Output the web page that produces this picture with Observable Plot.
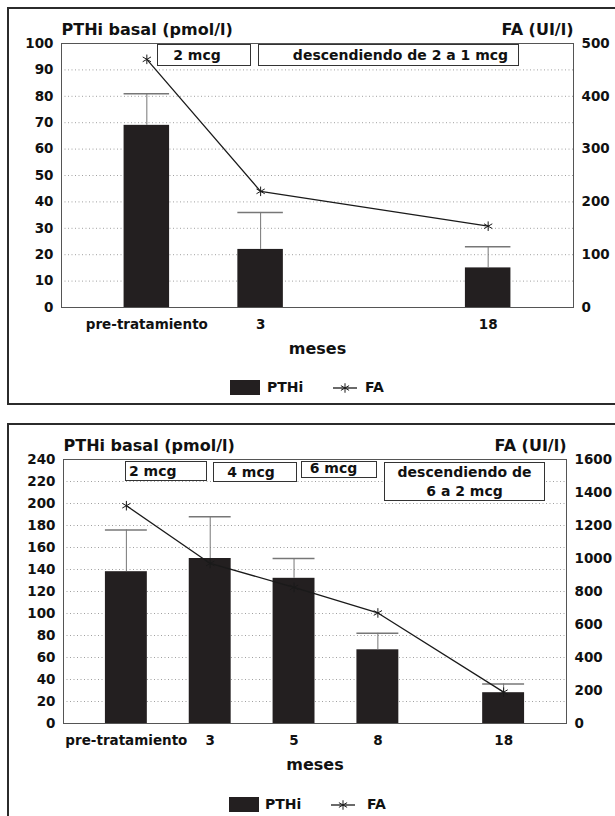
<!DOCTYPE html>
<html><head><meta charset="utf-8">
<script src="https://cdn.jsdelivr.net/npm/d3@7"></script>
<script src="https://cdn.jsdelivr.net/npm/@observablehq/plot@0.6"></script>
<style>
html,body{margin:0;padding:0;background:#fff;}
body{width:615px;height:816px;overflow:hidden;position:relative;font-family:"DejaVu Sans",sans-serif;color:#111;}
.panel{position:absolute;left:0;width:615px;height:416px;}
.border{position:absolute;left:7px;top:7px;width:680px;height:394px;border:2px solid #2b2b2b;}
.panel svg{position:absolute;left:0;top:0;}
.note{position:absolute;box-sizing:border-box;border:1px solid #333;background:#fff;font-weight:bold;font-size:14px;line-height:19px;white-space:nowrap;display:flex;align-items:center;justify-content:center;text-align:center;}
.lg{position:absolute;font-weight:bold;font-size:14px;line-height:17px;white-space:nowrap;}
.sw{position:absolute;background:#231f20;width:30px;height:15px;}
</style></head><body>
<div id="p1" class="panel" style="top:0"><div class="border"></div></div>
<div id="p2" class="panel" style="top:416px"><div class="border"></div></div>
<script>
// ---- Panel 1 data ----
const months1 = ["pre-tratamiento", "3", "18"];
const pth1 = [69, 22, 15];
const pthUpper1 = [81, 36, 23];
const fa1 = [470, 220, 154];

// ---- Panel 2 data ----
const months2 = ["pre-tratamiento", "3", "5", "8", "18"];
const pth2 = [138, 150, 132, 67, 28];
const pthUpper2 = [176, 188, 150, 82, 36];
const fa2 = [1320, 970, 825, 670, 190];

const leftTitle = "PTHi basal (pmol/l)";
const rightTitle = "FA (UI/l)";
const xTitle = "meses";

// category slot layouts (gap slots keep the original spacing)
const slots1 = ["pre-tratamiento", "3", "gap", "18"];
const slots2 = ["pre-tratamiento", "g1", "3", "g2", "5", "g3", "8", "g4", "g5", "18"];

function chart({slots, months, pth, upper, fa, yMax, yStep, faMax, faStep, marginLeft, marginRight, xOpts}) {
  const k = yMax / faMax;
  const rows = months.map((m, i) => ({month: m, pth: pth[i], upper: upper[i], fa: fa[i]}));
  return Plot.plot({
    width: 615, height: 416,
    marginTop: 43, marginBottom: 109, marginLeft, marginRight,
    style: {fontFamily: "DejaVu Sans", fontSize: "13.5px", fontWeight: "bold", color: "#111", background: "transparent", overflow: "visible"},
    x: Object.assign({type: "band", domain: slots, round: false, align: 0.5}, xOpts),
    y: {domain: [0, yMax]},
    marks: [
      Plot.gridY(d3.range(yStep, yMax, yStep), {stroke: "#a0a0a0", strokeOpacity: 1, strokeDasharray: "1,2.5"}),
      Plot.barY(rows, {x: "month", y: "pth", fill: "#231f20"}),
      Plot.ruleX(rows, {x: "month", y1: "pth", y2: "upper", stroke: "#777", strokeWidth: 1}),
      Plot.tickY(rows, {x: "month", y: "upper", stroke: "#777", strokeWidth: 1.5}),
      Plot.line(rows, {x: "month", y: d => d.fa * k, stroke: "#1a1a1a", strokeWidth: 1.3}),
      Plot.dot(rows, {x: "month", y: d => d.fa * k, symbol: "asterisk", r: 4.5, stroke: "#1a1a1a", strokeWidth: 1}),
      Plot.frame({stroke: "#555"}),
      Plot.axisY(d3.range(0, yMax + 1, yStep), {anchor: "left", tickSize: 0, tickPadding: 8, label: null}),
      Plot.axisY(d3.range(0, faMax + 1, faStep).map(v => v * k), {anchor: "right", tickSize: 0, tickPadding: 8, label: null, tickFormat: d => String(Math.round(d / k))}),
      Plot.axisX(months, {anchor: "bottom", tickSize: 0, tickPadding: 12, label: null}),
      Plot.text([leftTitle], {text: d => d, frameAnchor: "top-left", textAnchor: "start", lineAnchor: "middle", dy: -14, fontSize: 16}),
      Plot.text([rightTitle], {text: d => d, frameAnchor: "top-right", textAnchor: "end", lineAnchor: "middle", dy: -14, fontSize: 16}),
      Plot.text([xTitle], {text: d => d, frameAnchor: "bottom", textAnchor: "middle", lineAnchor: "middle", dy: 41, fontSize: 16})
    ]
  });
}

function note(panel, text, css) {
  const d = document.createElement("div");
  d.className = "note";
  d.innerHTML = text;
  Object.assign(d.style, css);
  panel.appendChild(d);
}

function legend(panel, o) {
  const sw = document.createElement("div");
  sw.className = "sw";
  sw.style.left = o.sw + "px"; sw.style.top = o.top + "px";
  panel.appendChild(sw);
  const t1 = document.createElement("div");
  t1.className = "lg"; t1.textContent = "PTHi";
  t1.style.left = o.t1 + "px"; t1.style.top = (o.top - 1) + "px";
  panel.appendChild(t1);
  const ns = "http://www.w3.org/2000/svg";
  const s = document.createElementNS(ns, "svg");
  s.setAttribute("width", 28); s.setAttribute("height", 16);
  s.style.left = o.ln + "px"; s.style.top = o.top + "px";
  const l = document.createElementNS(ns, "line");
  l.setAttribute("x1", 2); l.setAttribute("x2", 26); l.setAttribute("y1", 8); l.setAttribute("y2", 8);
  l.setAttribute("stroke", "#1a1a1a"); l.setAttribute("stroke-width", 1.3);
  s.appendChild(l);
  const p = document.createElementNS(ns, "path");
  p.setAttribute("d", d3.symbol(d3.symbolAsterisk, 20 * Math.PI)());
  p.setAttribute("transform", "translate(14,8)");
  p.setAttribute("stroke", "#1a1a1a"); p.setAttribute("fill", "none");
  s.appendChild(p);
  panel.appendChild(s);
  const t2 = document.createElement("div");
  t2.className = "lg"; t2.textContent = "FA";
  t2.style.left = o.t2 + "px"; t2.style.top = (o.top - 1) + "px";
  panel.appendChild(t2);
}

const p1 = document.getElementById("p1");
p1.appendChild(chart({slots: slots1, months: months1, pth: pth1, upper: pthUpper1, fa: fa1,
  yMax: 100, yStep: 10, faMax: 500, faStep: 100, marginLeft: 61, marginRight: 42,
  xOpts: {paddingInner: 0.6, paddingOuter: 0.55}}));
note(p1, "2 mcg", {left: "157px", top: "44px", width: "94px", height: "22px", paddingRight: "14px"});
note(p1, "descendiendo de 2 a 1 mcg", {left: "258px", top: "44px", width: "261px", height: "22px", paddingLeft: "24px"});
legend(p1, {sw: 230, top: 380, t1: 267, ln: 331, t2: 365});

const p2 = document.getElementById("p2");
p2.appendChild(chart({slots: slots2, months: months2, pth: pth2, upper: pthUpper2, fa: fa2,
  yMax: 240, yStep: 20, faMax: 1600, faStep: 200, marginLeft: 63, marginRight: 49,
  xOpts: {paddingInner: 0, paddingOuter: 1}}));
note(p2, "2 mcg", {left: "125px", top: "45px", width: "82px", height: "20px", justifyContent: "flex-start", paddingLeft: "3px"});
note(p2, "4 mcg", {left: "213px", top: "46px", width: "84px", height: "20px", paddingRight: "8px"});
note(p2, "6 mcg", {left: "301px", top: "45px", width: "76px", height: "17px", paddingRight: "11px", paddingBottom: "3px"});
note(p2, "descendiendo de<br>6 a 2 mcg", {left: "384px", top: "46px", width: "161px", height: "39px"});
legend(p2, {sw: 229, top: 381, t1: 265, ln: 329, t2: 367});
</script>
</body></html>
